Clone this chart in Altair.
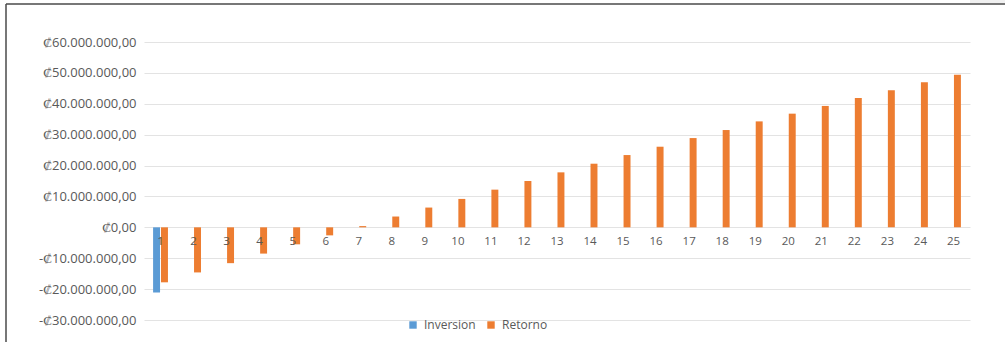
import altair as alt
import pandas as pd

# Project cash flow by year (colones)
years = list(range(1, 26))
retorno = [
    -17.8e6, -14.6e6, -11.6e6, -8.5e6, -5.5e6, -2.6e6, 0.4e6, 3.5e6, 6.4e6, 9.2e6,
    12.2e6, 15.0e6, 17.8e6, 20.6e6, 23.4e6, 26.1e6, 28.9e6, 31.5e6, 34.3e6, 36.8e6,
    39.3e6, 41.9e6, 44.4e6, 47.0e6, 49.4e6,
]
inversion_years = [1]
inversion = [-21.1e6]

series_names = ["Inversion", "Retorno"]
series_colors = ["#5B9BD5", "#ED7D31"]
y_ticks = [v * 1e6 for v in range(-30, 61, 10)]

rows = [{"year": y, "serie": "Inversion", "valor": v} for y, v in zip(inversion_years, inversion)]
rows += [{"year": y, "serie": "Retorno", "valor": v} for y, v in zip(years, retorno)]
df = pd.DataFrame(rows)
labels_df = pd.DataFrame({"year": years, "valor": [0.0] * len(years)})

W, H = 826, 278
GRAY = "#595959"
FONT = "Open Sans"

colon_label = (
    "(datum.value < 0 ? '-' : '') + '\u20a1' + "
    "replace(replace(replace(format(abs(datum.value), ',.2f'), regexp(',', 'g'), '_'), '.', ','), regexp('_', 'g'), '.')"
)

x_scale = alt.Scale(domain=years, paddingInner=0.55, paddingOuter=0.275)
y_scale = alt.Scale(domain=[-30e6, 60e6], nice=False, zero=True)
y_axis = alt.Axis(
    values=y_ticks,
    labelExpr=colon_label,
    labelOverlap=False,
    title=None,
    domain=False,
    ticks=False,
    grid=True,
    gridColor="#e3e3e3",
    gridWidth=1,
    labelColor=GRAY,
    labelFont=FONT,
    labelFontSize=13,
    labelPadding=8,
)

bars = alt.Chart(df).mark_bar().encode(
    x=alt.X("year:O", scale=x_scale, axis=None),
    xOffset=alt.XOffset("serie:N", scale=alt.Scale(domain=series_names, paddingInner=0.12)),
    y=alt.Y("valor:Q", scale=y_scale, axis=y_axis),
    color=alt.Color(
        "serie:N",
        scale=alt.Scale(domain=series_names, range=series_colors),
        legend=alt.Legend(
            title=None,
            orient="none",
            direction="horizontal",
            legendX=263,
            legendY=277,
            symbolType="square",
            symbolSize=55,
            symbolStrokeWidth=0,
            labelColor=GRAY,
            labelFont=FONT,
            labelFontSize=12,
            columnPadding=9,
            labelOffset=5,
        ),
    ),
)

# Category labels sit on the zero line, as in a spreadsheet chart
cat_labels = alt.Chart(labels_df).mark_text(
    dy=15, color=GRAY, font=FONT, fontSize=11.5
).encode(
    x=alt.X("year:O", scale=x_scale, axis=None),
    y=alt.Y("valor:Q", scale=y_scale, axis=y_axis),
    text="year:O",
)

# Outer frame lines (top and left) and the corner patch
frame_top = alt.Chart(labels_df.head(1)).mark_rule(color="#4a4a4a", strokeWidth=1.5).encode(
    x=alt.value(-138), x2=alt.value(861), y=alt.value(-38)
)
frame_left = alt.Chart(labels_df.head(1)).mark_rule(color="#4a4a4a", strokeWidth=1.5).encode(
    x=alt.value(-138), y=alt.value(-38), y2=alt.value(300)
)
corner = alt.Chart(labels_df.head(1)).mark_rect(color="#f0f0f0").encode(
    x=alt.value(826), x2=alt.value(861), y=alt.value(-42), y2=alt.value(-38.8)
)

chart = (
    alt.layer(corner, frame_top, frame_left, bars, cat_labels)
    .properties(
        width=W,
        height=H,
        autosize=alt.AutoSizeParams(type="none"),
        padding={"left": 144, "top": 42, "right": 35, "bottom": 22},
        background="white",
    )
    .configure_view(stroke=None)
    .configure_axis(labelOverlap=False)
)

chart.save("out.html", embed_options={"renderer": "svg", "actions": False})
